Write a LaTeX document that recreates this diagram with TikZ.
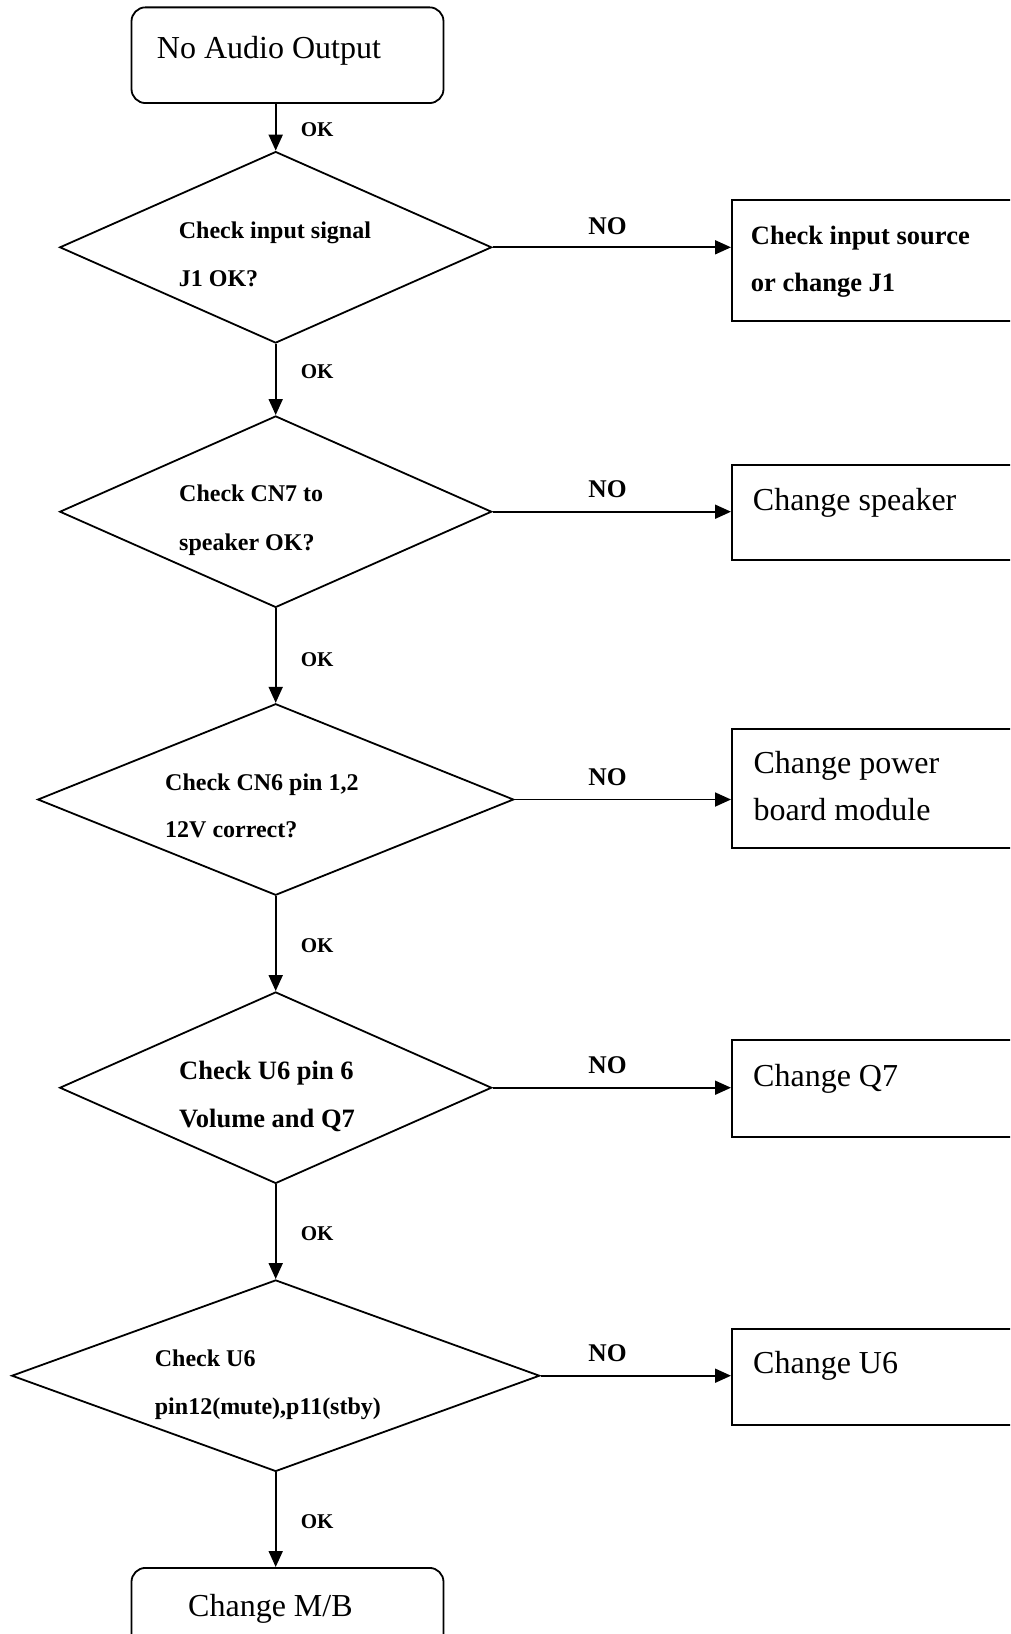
\documentclass[tikz,border=0pt]{standalone}
\usepackage{fontspec}
\setmainfont{Liberation Serif}
\usetikzlibrary{shapes.geometric,arrows.meta}
\begin{document}
\begin{tikzpicture}[x=1pt,y=-1pt,line width=1.8pt,
  dia/.style={draw,shape=diamond,inner sep=0pt,minimum width=#1,minimum height=191.5pt},
  rbox/.style={draw,rectangle,inner sep=0pt,anchor=north west,minimum width=320pt},
  tbox/.style={draw,rectangle,rounded corners=14pt,inner sep=0pt,minimum width=312pt},
  arr/.style={-{Triangle[length=16pt,width=14pt]}},
  tn/.style={anchor=base west,inner sep=0pt,font=\fontsize{32}{38}\selectfont},
  tb/.style={anchor=base west,inner sep=0pt,font=\fontsize{24}{29}\selectfont\bfseries},
  tbb/.style={anchor=base west,inner sep=0pt,font=\fontsize{26.5}{32}\selectfont\bfseries},
  okl/.style={anchor=base west,inner sep=0pt,font=\fontsize{21}{25}\selectfont\bfseries},
  nol/.style={anchor=base west,inner sep=0pt,font=\fontsize{25.5}{30}\selectfont\bfseries}]
\clip (0,0) rectangle (1010,1634);
% start box
\node[tbox,minimum height=95.7pt] (start) at (287.5,55.2) {};
\node[tn] (t0) at (156,58) {No Audio Output};
% diamonds
\node[dia=432pt] (d1) at (275.7,247.3) {};
\node[dia=432pt] (d2) at (275.7,511.7) {};
\node[dia=476pt] (d3) at (275.7,799.5) {};
\node[dia=432pt] (d4) at (275.7,1087.7) {};
\node[dia=528pt] (d5) at (275.7,1375.7) {};
\node[tb] (d1a) at (178,238) {Check input signal};
\node[tb] (d1b) at (178,286) {J1 OK?};
\node[tb] (d2a) at (178.3,501.7) {Check CN7 to};
\node[tb] (d2b) at (178.3,550) {speaker OK?};
\node[tb] (d3a) at (164.3,790) {Check CN6 pin 1,2};
\node[tb] (d3b) at (164.3,837.3) {12V correct?};
\node[tbb] (d4a) at (178.3,1079) {Check U6 pin 6};
\node[tbb] (d4b) at (178.3,1127.3) {Volume and Q7};
\node[tb] (d5a) at (154,1366) {Check U6};
\node[tb] (d5b) at (154,1414) {pin12(mute),p11(stby)};
% right boxes
\node[rbox,minimum height=120.7pt] (b1) at (731,199.3) {};
\node[rbox,minimum height=95.3pt] (b2) at (731,464) {};
\node[rbox,minimum height=119.6pt] (b3) at (731,727.7) {};
\node[rbox,minimum height=96.4pt] (b4) at (731,1039.3) {};
\node[rbox,minimum height=96.3pt] (b5) at (731,1327.7) {};
\node[tbb] (b1a) at (750,244) {Check input source};
\node[tbb] (b1b) at (750,291.7) {or change J1};
\node[tn] (b2a) at (752,510) {Change speaker};
\node[tn] (b3a) at (752.7,773.3) {Change power};
\node[tn] (b3b) at (752.7,820.7) {board module};
\node[tn] (b4a) at (752.3,1086.7) {Change Q7};
\node[tn] (b5a) at (752.3,1373) {Change U6};
% end box
\node[tbox,anchor=north,minimum height=110pt] (mb) at (287.5,1567) {};
\node[tn] (mba) at (187.3,1616.7) {Change M/B};
% vertical connectors
\draw[arr] (d1.north |- start.south) -- (d1.north);
\draw[arr] (d1.south) -- (d2.north);
\draw[arr] (d2.south) -- (d3.north);
\draw[arr] (d3.south) -- (d4.north);
\draw[arr] (d4.south) -- (d5.north);
\draw[arr] (d5.south) -- (d5.south |- mb.north);
% horizontal connectors
\draw[arr] (d1.east) -- (d1.east -| b1.west);
\draw[arr] (d2.east) -- (d2.east -| b2.west);
\draw[arr] (d3.east) -- (d3.east -| b3.west);
\draw[arr] (d4.east) -- (d4.east -| b4.west);
\draw[arr] (d5.east) -- (d5.east -| b5.west);
% labels
\node[okl] (ok1) at (300,136) {OK};
\node[okl] (ok2) at (300,378) {OK};
\node[okl] (ok3) at (300,666) {OK};
\node[okl] (ok4) at (300,952.5) {OK};
\node[okl] (ok5) at (300,1240) {OK};
\node[okl] (ok6) at (300,1528.3) {OK};
\node[nol] (no1) at (587.5,234) {NO};
\node[nol] (no2) at (587.5,497.3) {NO};
\node[nol] (no3) at (587.5,785.5) {NO};
\node[nol] (no4) at (587.5,1073) {NO};
\node[nol] (no5) at (587.5,1361.7) {NO};
\end{tikzpicture}
\end{document}
